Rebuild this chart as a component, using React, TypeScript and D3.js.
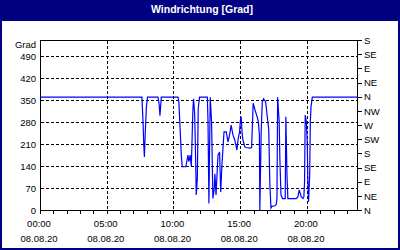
import React from "react";
import * as d3 from "d3";

const title = "Windrichtung [Grad]";
const yUnit = "Grad";
const leftTicks = [0, 70, 140, 210, 280, 350, 420, 490];
const rightTickLabels = ["N", "NE", "E", "SE", "S", "SW", "W", "NW", "N", "NE", "E", "SE", "S"];
const xTickHours = [0, 5, 10, 15, 20];
const xTickLabels = ["00:00", "05:00", "10:00", "15:00", "20:00"];
const dateLabel = "08.08.20";

const times = [
  "00:00", "07:36", "07:41", "07:44", "07:47", "07:52", "07:56", "08:01", "08:48", "08:53",
  "08:57", "09:03", "10:18", "10:22", "10:33", "10:37", "10:53", "11:03", "11:07", "11:13",
  "11:18", "11:25", "11:28", "11:33", "11:38", "11:40", "11:45", "11:49", "11:55", "12:30",
  "12:33", "12:37", "12:43", "12:49", "12:55", "13:01", "13:04", "13:09", "13:18", "13:25",
  "13:30", "13:36", "13:45", "13:55", "14:03", "14:10", "14:17", "14:25", "14:33", "14:43",
  "14:48", "14:55", "14:58", "15:02", "15:07", "15:10", "15:18", "15:23", "15:41", "15:49",
  "15:56", "16:04", "16:13", "16:19", "16:24", "16:26", "16:32", "16:37", "16:43", "16:52",
  "17:02", "17:06", "17:11", "17:16", "17:20", "17:34", "17:40", "17:43", "17:46", "17:53",
  "17:56", "18:01", "18:08", "18:20", "18:23", "18:28", "18:32", "19:10", "19:17", "19:23",
  "19:32", "19:40", "19:44", "19:47", "19:50", "19:55", "19:59", "20:02", "20:05", "20:10",
  "20:13", "20:16", "20:22", "23:45",
];
const directions = [
  360, 360, 280, 213, 170, 266, 329, 360, 360, 340,
  301, 360, 360, 345, 176, 139, 139, 176, 155, 176,
  140, 319, 355, 308, 140, 49, 102, 324, 360, 360,
  283, 22, 360, 282, 38, 70, 117, 49, 176, 186,
  59, 150, 250, 250, 218, 240, 271, 240, 225, 192,
  225, 250, 282, 298, 240, 225, 203, 200, 198, 200,
  341, 320, 300, 283, 240, 0, 250, 345, 355, 345,
  282, 256, 82, 8, 13, 15, 20, 40, 360, 282,
  165, 49, 38, 38, 298, 112, 38, 38, 44, 65,
  44, 38, 44, 91, 303, 282, 218, 91, 28, 112,
  282, 329, 360, 360,
];

const toMin = (s: string) => {
  const [h, m] = s.split(":").map(Number);
  return h * 60 + m;
};

export default function App() {
  const W = 400, H = 250;
  const x = d3.scaleLinear().domain([0, 1425]).range([40.5, 357.5]);
  const y = d3.scaleLinear().domain([0, 540]).range([210.5, 40.5]);
  const data = times.map((t, i) => ({ t: toMin(t), v: directions[i] }));
  const line = d3.line<{ t: number; v: number }>().x(d => x(d.t)).y(d => y(d.v));
  const snap = (v: number) => Math.round(v - 0.5) + 0.5;
  const font = "'Liberation Sans', Arial, sans-serif";
  const hours = d3.range(0, 24);
  const gridH = leftTicks.filter(v => v > 0);
  const gridV = xTickHours.filter(h => h > 0);
  return (
    <svg width={W} height={H} style={{ position: "absolute", left: 0, top: 0 }} fontFamily={font}>
      <rect x={0} y={0} width={W} height={H} fill="#fff" />
      <rect x={0} y={0} width={W} height={21} fill="#000080" />
      <rect x={1} y={1} width={W - 2} height={H - 2} fill="none" stroke="#000080" strokeWidth={2} />
      <text x={202} y={13} fill="#fff" fontWeight="bold" fontSize={10.5} textAnchor="middle">{title}</text>
      {gridH.map(v => (
        <line key={"gh" + v} x1={40.5} x2={357.5} y1={snap(y(v))} y2={snap(y(v))} stroke="#000" strokeDasharray="3,2" shapeRendering="crispEdges" />
      ))}
      {gridV.map(h => (
        <line key={"gv" + h} x1={snap(x(h * 60))} x2={snap(x(h * 60))} y1={40.5} y2={210.5} stroke="#000" strokeDasharray="3,2" shapeRendering="crispEdges" />
      ))}
      <rect x={40.5} y={40.5} width={317} height={170} fill="none" stroke="#000" shapeRendering="crispEdges" />
      {hours.map(h => (
        <line key={"xt" + h} x1={snap(x(h * 60))} x2={snap(x(h * 60))} y1={210.5} y2={214} stroke="#000" shapeRendering="crispEdges" />
      ))}
      {rightTickLabels.map((lab, i) => (
        <g key={"rt" + i}>
          <line x1={357.5} x2={362} y1={snap(y(i * 45))} y2={snap(y(i * 45))} stroke="#000" shapeRendering="crispEdges" />
          <text x={364} y={y(i * 45)} dy="0.35em" fontSize={9.5} fill="#000">{lab}</text>
        </g>
      ))}
      {leftTicks.map(v => (
        <text key={"lt" + v} x={36} y={y(v)} dy="0.35em" fontSize={9.5} textAnchor="end" fill="#000">{v}</text>
      ))}
      <text x={36} y={45} dy="0.35em" fontSize={9.5} textAnchor="end" fill="#000">{yUnit}</text>
      {xTickHours.map((h, i) => (
        <g key={"xl" + h}>
          <text x={x(h * 60) - 1.5} y={227} fontSize={9.5} textAnchor="middle" fill="#000">{xTickLabels[i]}</text>
          <text x={x(h * 60) - 1.5} y={241.5} fontSize={9.5} textAnchor="middle" fill="#000">{dateLabel}</text>
        </g>
      ))}
      <path d={line(data) || ""} fill="none" stroke="#0000ff" strokeWidth={1.2} />
    </svg>
  );
}
